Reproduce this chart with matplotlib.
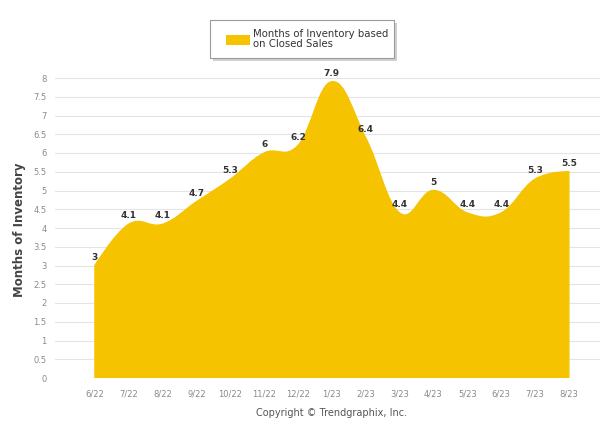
import matplotlib
matplotlib.use("Agg")
import matplotlib.pyplot as plt
from matplotlib.path import Path
from matplotlib.patches import PathPatch, Rectangle
import numpy as np

# monthly months-of-inventory values
months = ["6/22", "7/22", "8/22", "9/22", "10/22", "11/22", "12/22", "1/23",
          "2/23", "3/23", "4/23", "5/23", "6/23", "7/23", "8/23"]
inventory = [3, 4.1, 4.1, 4.7, 5.3, 6, 6.2, 7.9, 6.4, 4.4, 5, 4.4, 4.4, 5.3, 5.5]

fill_color = "#F5C300"
grid_color = "#e4e4e4"


def spline_path(xs, ys, smoothing=1.5):
    # smooth curve through the points using bezier control points
    n = len(xs)
    denom = smoothing + 1
    left = [(xs[i], ys[i]) for i in range(n)]
    right = [(xs[i], ys[i]) for i in range(n)]
    for i in range(1, n - 1):
        x, y = xs[i], ys[i]
        lx = (smoothing * x + xs[i - 1]) / denom
        ly = (smoothing * y + ys[i - 1]) / denom
        rx = (smoothing * x + xs[i + 1]) / denom
        ry = (smoothing * y + ys[i + 1]) / denom
        if rx != lx:
            corr = (ry - ly) * (rx - x) / (rx - lx) + y - ry
            ly += corr
            ry += corr
        left[i] = (lx, ly)
        right[i] = (rx, ry)
    verts = [(xs[0], 0), (xs[0], ys[0])]
    codes = [Path.MOVETO, Path.LINETO]
    for i in range(1, n):
        verts += [right[i - 1], left[i], (xs[i], ys[i])]
        codes += [Path.CURVE4] * 3
    verts += [(xs[-1], 0), (xs[0], 0)]
    codes += [Path.LINETO, Path.CLOSEPOLY]
    return Path(verts, codes)


fig = plt.figure(figsize=(6.04, 4.21), dpi=100)
ax = fig.add_axes([55 / 604, 1 - 378 / 421, 545 / 604, 300 / 421])

x = np.arange(len(months))
ax.add_patch(PathPatch(spline_path(x, inventory), facecolor=fill_color,
                       edgecolor=fill_color, lw=1.0, zorder=2))

for xi, v in zip(x, inventory):
    label = f"{v:g}"
    ax.annotate(label, (xi, v), xytext=(0, 6), textcoords="offset points",
                ha="center", va="center", fontsize=6.5, fontweight="bold",
                color="#333333", zorder=4)

ax.set_xlim(-1.18, 14.92)
ax.set_ylim(0, 8)
ax.set_yticks(np.arange(0, 8.01, 0.5))
ax.set_yticklabels([f"{t:g}" for t in np.arange(0, 8.01, 0.5)])
ax.set_xticks(x)
ax.set_xticklabels(months)
ax.tick_params(axis="both", length=0, labelsize=6, colors="#8a8a8a")
ax.tick_params(axis="x", pad=8)
ax.tick_params(axis="y", pad=6)
ax.grid(axis="y", color=grid_color, lw=0.8, zorder=0)
ax.set_axisbelow(True)
for s in ax.spines.values():
    s.set_visible(False)

fig.text(20 / 604, 1 - 230 / 421, "Months of Inventory", rotation=90,
         ha="center", va="center", fontsize=8.5, fontweight="bold",
         color="#444444")
fig.text(332 / 604, 1 - 413 / 421, "Copyright \u00a9 Trendgraphix, Inc.",
         ha="center", va="center", fontsize=7, color="#555555")

# legend box
fig.patches.append(Rectangle((213 / 604, 1 - 61 / 421), 184 / 604, 38 / 421,
                             transform=fig.transFigure, facecolor="#d0d0d0",
                             edgecolor="none", zorder=1))
fig.patches.append(Rectangle((210 / 604, 1 - 58 / 421), 184 / 604, 38 / 421,
                             transform=fig.transFigure, facecolor="white",
                             edgecolor="#9a9a9a", lw=0.8, zorder=2))
fig.patches.append(Rectangle((226 / 604, 1 - 45 / 421), 24 / 604, 10 / 421,
                             transform=fig.transFigure, facecolor=fill_color,
                             edgecolor="none", zorder=3))
fig.text(253 / 604, 1 - 39 / 421, "Months of Inventory based\non Closed Sales",
         ha="left", va="center", fontsize=7.3, color="#333333",
         linespacing=0.95, zorder=4)

fig.savefig("out.png", dpi=100)
